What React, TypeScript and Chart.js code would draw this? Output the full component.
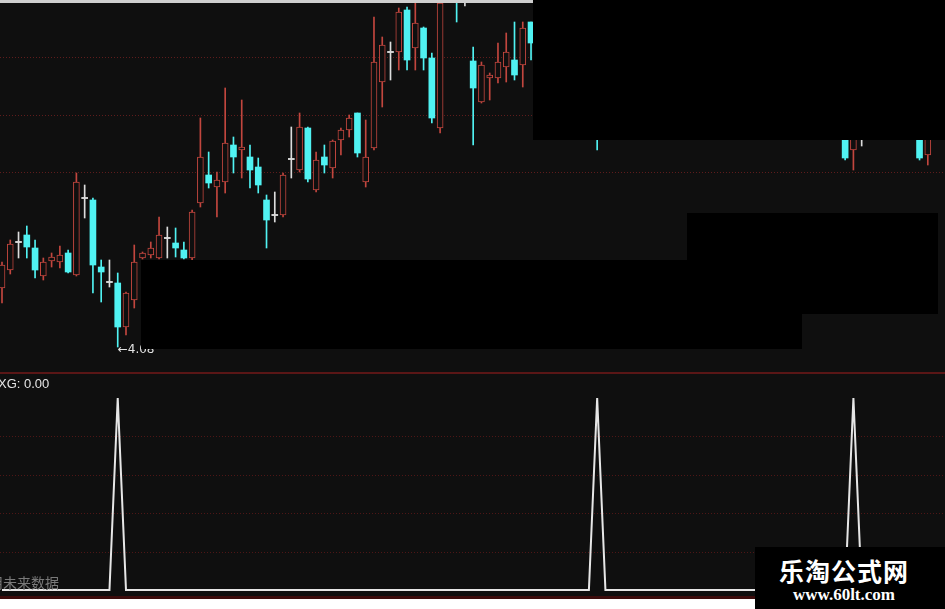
import React, { useEffect, useRef } from 'react';
import { Chart, registerables } from 'chart.js';

Chart.register(...registerables);

// ---- data ----
const CANDLE_INDEX = [
  0, 1, 2, 3, 4, 5, 6, 7, 8, 9, 10, 11, 12, 13, 14, 15, 16, 17, 18, 19,
  20, 21, 22, 23, 24, 25, 26, 27, 28, 29, 30, 31, 32, 33, 34, 35, 36, 37, 38, 39,
  40, 41, 42, 43, 44, 45, 46, 47, 48, 49, 50, 51, 52, 53, 55, 56, 57, 58, 59, 60,
  61, 62, 63, 64, 72, 102, 103, 104, 111, 112,
];
const OPEN = [
  4.67, 4.85, 5.13, 5.20, 5.07, 4.79, 4.94, 4.93, 5.02, 4.80, 5.57, 5.55, 4.88, 4.73, 4.72, 4.28, 4.55, 4.97, 5.00, 4.97,
  5.17, 5.12, 5.05, 4.97, 5.52, 5.80, 5.68, 5.73, 6.10, 6.05, 5.98, 5.88, 5.55, 5.40, 5.40, 5.96, 5.85, 6.27, 5.65, 5.98,
  5.87, 6.15, 6.25, 6.42, 5.73, 6.07, 6.73, 7.03, 7.03, 7.45, 7.07, 7.27, 6.97, 6.27, 7.80, 7.65, 6.94, 6.53, 6.77, 6.77,
  6.88, 6.95, 6.90, 7.33, 6.45, 6.50, 6.05, 6.35, 6.60, 6.00,
];
const HIGH = [
  4.93, 5.15, 5.23, 5.29, 5.15, 4.97, 5.02, 5.09, 5.05, 5.82, 5.70, 5.57, 4.95, 4.95, 4.82, 4.63, 5.10, 5.03, 5.13, 5.38,
  5.28, 5.27, 5.13, 5.45, 6.37, 6.03, 5.83, 6.67, 6.18, 6.55, 6.10, 5.97, 5.60, 5.63, 5.82, 6.28, 6.42, 6.28, 6.03, 6.10,
  6.15, 6.27, 6.40, 6.42, 6.35, 7.38, 7.18, 7.13, 7.47, 7.48, 7.52, 7.28, 7.02, 7.58, 7.90, 7.80, 7.08, 6.93, 6.82, 7.12,
  7.22, 7.33, 7.33, 7.33, 6.55, 6.60, 6.70, 6.50, 6.70, 6.75,
];
const LOW = [
  4.52, 4.81, 4.97, 4.97, 4.77, 4.75, 4.88, 4.87, 4.82, 4.79, 5.37, 4.62, 4.53, 4.68, 4.08, 4.20, 4.47, 4.96, 4.97, 4.96,
  4.97, 4.98, 4.96, 4.95, 5.48, 5.67, 5.38, 5.62, 5.82, 5.77, 5.67, 5.62, 5.07, 5.33, 5.38, 5.77, 5.83, 5.73, 5.63, 5.82,
  5.77, 6.00, 6.18, 5.98, 5.68, 6.05, 6.48, 6.75, 6.85, 6.85, 6.85, 6.85, 6.32, 6.22, 7.33, 7.49, 6.10, 6.52, 6.55, 6.72,
  6.73, 6.75, 6.68, 6.95, 6.05, 5.95, 5.85, 6.09, 5.95, 5.90,
];
const CLOSE = [
  4.90, 5.11, 5.13, 5.08, 4.85, 4.93, 4.98, 5.00, 4.83, 5.73, 5.57, 4.90, 4.83, 4.73, 4.28, 4.62, 4.93, 5.02, 5.07, 5.20,
  5.17, 5.07, 4.97, 5.43, 5.98, 5.72, 5.75, 6.12, 5.98, 6.08, 5.85, 5.70, 5.35, 5.40, 5.80, 5.96, 6.28, 5.76, 5.95, 5.90,
  6.14, 6.25, 6.37, 6.02, 5.98, 6.93, 7.10, 7.03, 7.43, 6.95, 7.32, 6.97, 6.37, 7.52, 7.57, 7.65, 6.67, 6.90, 6.80, 6.93,
  7.03, 6.80, 7.27, 7.12, 6.17, 5.97, 6.55, 6.35, 5.97, 6.60,
];
const LOW_MARK_INDEX = 14;
const PRICE_GRID = [6.98, 6.40, 5.83];

const XG = [
  0, 0, 0, 0, 0, 0, 0, 0, 0, 0, 0, 0, 0, 0, 1, 0, 0, 0, 0, 0,
  0, 0, 0, 0, 0, 0, 0, 0, 0, 0, 0, 0, 0, 0, 0, 0, 0, 0, 0, 0,
  0, 0, 0, 0, 0, 0, 0, 0, 0, 0, 0, 0, 0, 0, 0, 0, 0, 0, 0, 0,
  0, 0, 0, 0, 0, 0, 0, 0, 0, 0, 0, 0, 1, 0, 0, 0, 0, 0, 0, 0,
  0, 0, 0, 0, 0, 0, 0, 0, 0, 0, 0, 0, 0, 0, 0, 0, 0, 0, 0, 0,
  0, 0, 0, 1, 0, 0, 0, 0, 0, 0, 0, 0, 0, 0,
];
const XG_GRID = [0.2, 0.4, 0.6, 0.8];

// ---- styles ----
const BG = '#0f0f0f';
const RED = '#c2463e';
const CYAN = '#50f2f2';
const WHITE = '#dcdcdc';
const X_MIN = -0.242;
const X_MAX = 114.08;

const colorOf = (i: number) =>
  CLOSE[i] > OPEN[i] ? RED : CLOSE[i] < OPEN[i] ? CYAN : WHITE;

const gridPlugin = (levels: number[], color: string) => ({
  id: 'dottedGrid',
  beforeDatasetsDraw(chart: any) {
    const { ctx, chartArea, scales } = chart;
    ctx.save();
    ctx.strokeStyle = color;
    ctx.lineWidth = 1;
    ctx.setLineDash([1, 2]);
    levels.forEach((v) => {
      const y = Math.round(scales.y.getPixelForValue(v)) + 0.5;
      ctx.beginPath();
      ctx.moveTo(chartArea.left, y);
      ctx.lineTo(chartArea.right, y);
      ctx.stroke();
    });
    ctx.restore();
  },
});

const lowLabelPlugin = {
  id: 'lowLabel',
  afterDatasetsDraw(chart: any) {
    const { ctx, scales } = chart;
    const pos = CANDLE_INDEX.indexOf(LOW_MARK_INDEX);
    const x = scales.x.getPixelForValue(LOW_MARK_INDEX);
    const y = scales.y.getPixelForValue(LOW[pos]);
    ctx.save();
    ctx.fillStyle = '#e4e4e4';
    ctx.font = '12px "DejaVu Sans"';
    ctx.textBaseline = 'middle';
    ctx.fillText('\u2190' + LOW[pos].toFixed(2), x, y + 3);
    ctx.restore();
  },
};

export default function App() {
  const topRef = useRef<HTMLCanvasElement>(null);
  const botRef = useRef<HTMLCanvasElement>(null);

  useEffect(() => {
    const colors = CANDLE_INDEX.map((_, i) => colorOf(i));
    const bodies = CANDLE_INDEX.map((x, i) => {
      const lo = Math.min(OPEN[i], CLOSE[i]);
      const hi = Math.max(OPEN[i], CLOSE[i]);
      const pad = lo === hi ? 0.006 : 0;
      return { x, y: [lo - pad, hi + pad] };
    });
    const wicks = CANDLE_INDEX.map((x, i) => ({ x, y: [LOW[i], HIGH[i]] }));

    const top = new Chart(topRef.current as HTMLCanvasElement, {
      type: 'bar',
      data: {
        datasets: [
          {
            data: bodies as any,
            backgroundColor: colors.map((c) => (c === RED ? BG : c)),
            borderColor: colors,
            borderWidth: colors.map((c) => (c === RED ? 1 : 0)),
            borderSkipped: false,
            barThickness: 6,
            grouped: false,
            order: 1,
          } as any,
          {
            data: wicks as any,
            backgroundColor: colors,
            borderWidth: 0,
            barThickness: 1,
            grouped: false,
            order: 2,
          } as any,
        ],
      },
      options: {
        responsive: false,
        animation: false,
        events: [],
        layout: { padding: 0 },
        plugins: { legend: { display: false }, tooltip: { enabled: false } },
        scales: {
          x: { type: 'linear', display: false, min: X_MIN, max: X_MAX, offset: false },
          y: { type: 'linear', display: false, min: 3.83, max: 7.55 },
        },
      },
      plugins: [gridPlugin(PRICE_GRID, '#5e1c1c'), lowLabelPlugin],
    });

    const bot = new Chart(botRef.current as HTMLCanvasElement, {
      type: 'line',
      data: {
        datasets: [
          {
            data: XG.map((v, i) => ({ x: i, y: v })),
            borderColor: '#e6e6e6',
            borderWidth: 2,
            pointRadius: 0,
            tension: 0,
            fill: false,
          },
        ],
      },
      options: {
        responsive: false,
        animation: false,
        events: [],
        layout: { padding: 0 },
        plugins: { legend: { display: false }, tooltip: { enabled: false } },
        scales: {
          x: { type: 'linear', display: false, min: X_MIN, max: X_MAX },
          y: { type: 'linear', display: false, min: -0.03125, max: 1.125 },
        },
      },
      plugins: [gridPlugin(XG_GRID, '#4e1616')],
    });

    return () => {
      top.destroy();
      bot.destroy();
    };
  }, []);

  const box = (left: number, top: number, width: number, height: number, bg = '#000') => (
    <div style={{ position: 'absolute', left, top, width, height, background: bg }} />
  );

  return (
    <div
      style={{
        position: 'fixed',
        left: 0,
        top: 0,
        width: 945,
        height: 609,
        background: '#ffffff',
        overflow: 'hidden',
      }}
    >
      <canvas
        ref={topRef}
        width={945}
        height={372}
        style={{ position: 'absolute', left: 0, top: 0, background: BG, display: 'block' }}
      />
      <div style={{ position: 'absolute', left: 0, top: 372, width: 945, height: 2, background: '#5a1616' }} />
      <canvas
        ref={botRef}
        width={945}
        height={222}
        style={{ position: 'absolute', left: 0, top: 374, background: BG, display: 'block' }}
      />
      <div style={{ position: 'absolute', left: 0, top: 596, width: 945, height: 3, background: '#3c0c0c' }} />

      {/* overlays */}
      {box(0, 0, 533, 3, '#cfcfcf')}
      {box(533, 0, 412, 140)}
      {box(141, 260, 661, 89)}
      {box(687, 213, 251, 101)}

      <div
        style={{
          position: 'absolute',
          left: -2,
          top: 376,
          color: '#e6e6e6',
          font: '13px "Liberation Sans", Arial, sans-serif',
          whiteSpace: 'nowrap',
        }}
      >
        XG: 0.00
      </div>
      <div
        style={{
          position: 'absolute',
          left: -11,
          top: 574,
          color: '#7a7a7a',
          font: '14px "Noto Sans CJK SC", sans-serif',
          lineHeight: '16px',
          whiteSpace: 'nowrap',
        }}
      >
        用未来数据
      </div>

      <div
        style={{
          position: 'absolute',
          left: 755,
          top: 547,
          width: 190,
          height: 62,
          background: '#000',
          color: '#fff',
          textAlign: 'center',
        }}
      >
        <div
          style={{
            position: 'absolute',
            left: 0,
            width: 178,
            top: 9,
            font: 'bold 25px "Noto Sans CJK SC", sans-serif',
            lineHeight: '28px',
            letterSpacing: 1,
          }}
        >
          乐淘公式网
        </div>
        <div
          style={{
            position: 'absolute',
            left: 0,
            width: 178,
            top: 38,
            font: 'bold 17px "Liberation Serif", serif',
            lineHeight: '20px',
          }}
        >
          www.60lt.com
        </div>
      </div>
    </div>
  );
}
